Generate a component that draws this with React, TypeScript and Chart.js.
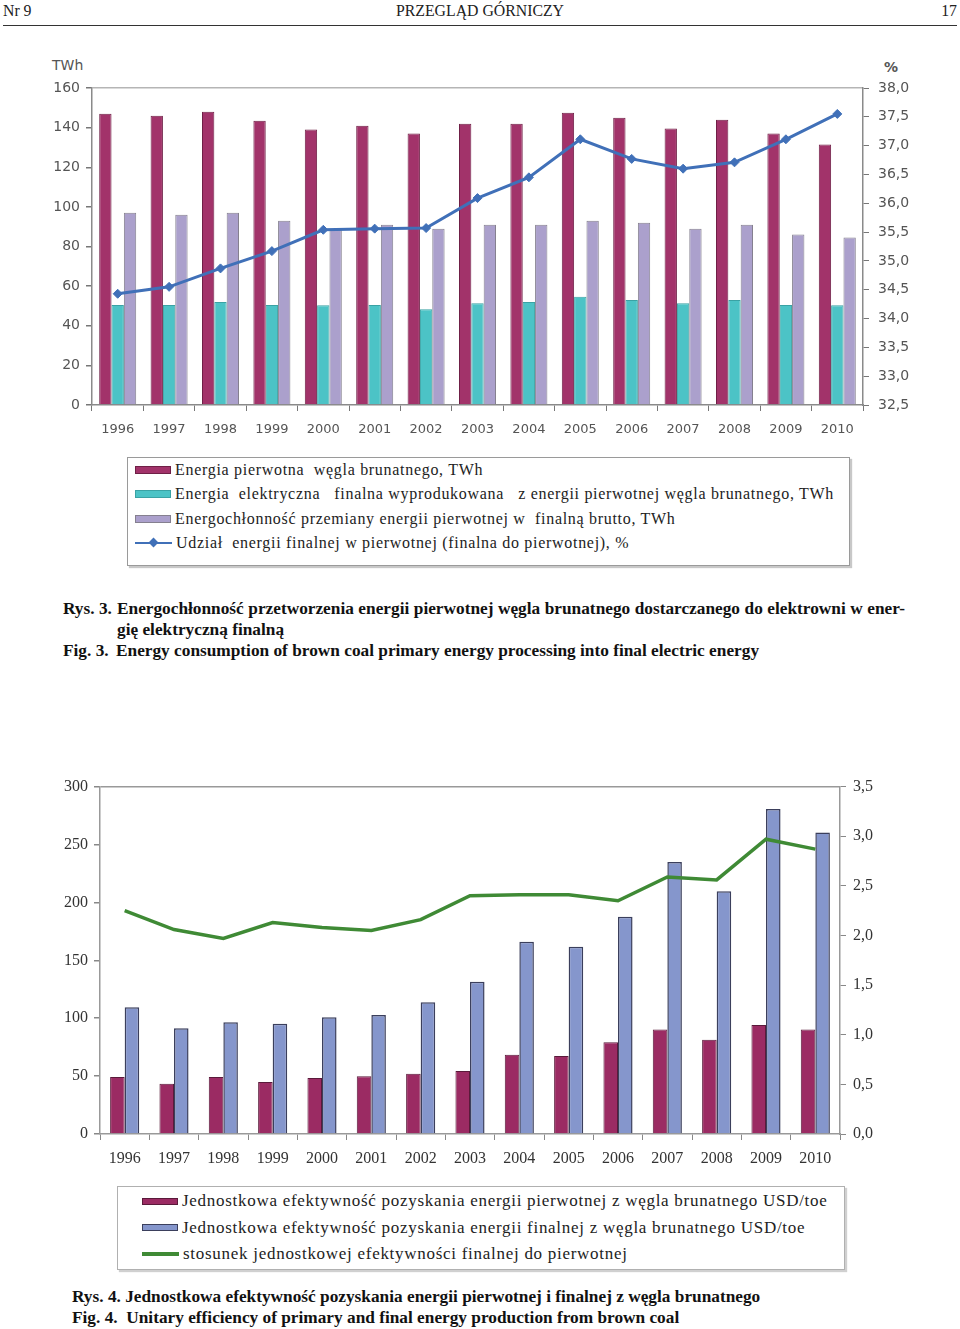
import React, { useEffect, useRef } from 'react';
import { Chart, registerables } from 'chart.js';

Chart.register(...registerables);

// ---------- DATA ----------
const years = ['1996', '1997', '1998', '1999', '2000', '2001', '2002', '2003', '2004', '2005', '2006', '2007', '2008', '2009', '2010'];

// Fig. 3
const primaryTWh = [147, 146, 148, 143.5, 139, 141, 137, 142, 142, 147.5, 145, 139.5, 144, 137, 131.5];
const finalTWh = [50.5, 50.5, 52, 50.5, 50.3, 50.5, 48.3, 51.3, 52, 54.7, 53, 51.3, 53, 50.5, 50.3];
const lossTWh = [97, 96, 97, 93, 88.5, 91, 89, 91, 91, 93, 92, 89, 91, 86, 84.5];
const sharePct = [34.43, 34.55, 34.87, 35.17, 35.54, 35.56, 35.57, 36.09, 36.45, 37.11, 36.77, 36.6, 36.71, 37.11, 37.55];
const fig3LeftRange = [0, 160, 20];
const fig3RightRange = [32.5, 38, 0.5];
const fig3Legend = [
  'Energia pierwotna  węgla brunatnego, TWh',
  'Energia  elektryczna   finalna wyprodukowana   z energii pierwotnej węgla brunatnego, TWh',
  'Energochłonność przemiany energii pierwotnej w  finalną brutto, TWh',
  'Udział  energii finalnej w pierwotnej (finalna do pierwotnej), %',
];

// Fig. 4
const primaryEff = [49.3, 43.5, 49.3, 45, 48.4, 49.8, 52.1, 54.4, 68.5, 67.3, 79.3, 90.2, 81.3, 94.2, 90.2];
const finalEff = [109.4, 91.3, 96.5, 95.1, 100.8, 102.8, 113.7, 131.4, 166, 161.8, 187.6, 234.8, 209.6, 280.7, 260.3];
const effRatio = [2.25, 2.06, 1.97, 2.13, 2.08, 2.05, 2.16, 2.4, 2.41, 2.41, 2.35, 2.59, 2.56, 2.97, 2.87];
const fig4LeftRange = [0, 300, 50];
const fig4RightRange = [0, 3.5, 0.5];
const fig4Legend = [
  'Jednostkowa efektywność pozyskania energii pierwotnej z węgla brunatnego USD/toe',
  'Jednostkowa efektywność pozyskania energii finalnej z węgla brunatnego USD/toe',
  'stosunek jednostkowej efektywności finalnej do pierwotnej',
];

// ---------- STYLES ----------
const C1 = { maroon: '#a2336a', maroonB: '#6f2046', teal: '#4cc3c6', tealB: '#3aa2a4', lav: '#aba0cc', lavB: '#85808f', line: '#4070b8' };
const C2 = { maroon: '#9b2b63', maroonB: '#5a1a3a', blue: '#8596cc', blueB: '#3b3f5c', green: '#3f8a35' };

const comma = (v: number) => Number(v).toFixed(1).replace('.', ',');

function Fig3Chart() {
  const ref = useRef<HTMLCanvasElement>(null);
  useEffect(() => {
    const sans = { family: 'DejaVu Sans', size: 14 };
    const chart = new Chart(ref.current!, {
      type: 'bar',
      data: {
        labels: years,
        datasets: [
          { type: 'line', label: fig3Legend[3], data: sharePct, yAxisID: 'y2', borderColor: C1.line, backgroundColor: C1.line, borderWidth: 3, pointStyle: 'rectRot', pointRadius: 4.5, pointBorderWidth: 1, tension: 0, order: 0 } as any,
          { type: 'bar', label: fig3Legend[0], data: primaryTWh, yAxisID: 'y', backgroundColor: C1.maroon, borderColor: C1.maroonB, borderWidth: 1, order: 1 },
          { type: 'bar', label: fig3Legend[1], data: finalTWh, yAxisID: 'y', backgroundColor: C1.teal, borderColor: C1.tealB, borderWidth: 1, order: 1 },
          { type: 'bar', label: fig3Legend[2], data: lossTWh, yAxisID: 'y', backgroundColor: C1.lav, borderColor: C1.lavB, borderWidth: 1, order: 1 },
        ],
      },
      options: {
        animation: false,
        responsive: false,
        devicePixelRatio: 1,
        layout: { padding: { top: 38, left: 0, right: 0, bottom: 0 } },
        datasets: { bar: { categoryPercentage: 0.72, barPercentage: 1.0 } },
        plugins: { legend: { display: false }, tooltip: { enabled: false } },
        scales: {
          x: {
            grid: { offset: true, drawOnChartArea: false, tickColor: '#777', tickLength: 6 },
            border: { color: '#8a8a8a', width: 1.5 },
            ticks: { font: { family: 'DejaVu Sans', size: 13 }, color: '#555', padding: 11, maxRotation: 0, autoSkip: false },
            afterFit: (s: any) => { s.height = 45; },
          },
          y: {
            position: 'left',
            min: fig3LeftRange[0], max: fig3LeftRange[1],
            ticks: { stepSize: fig3LeftRange[2], font: sans, color: '#555', padding: 6 },
            grid: { color: (ctx: any) => (ctx.tick && ctx.tick.value === fig3LeftRange[1] ? '#b5b5b5' : 'rgba(0,0,0,0)'), lineWidth: 1.5, tickColor: '#777', tickLength: 6 },
            border: { color: '#8a8a8a', width: 1.5 },
            afterFit: (s: any) => { s.width = 52; },
          },
          y2: {
            position: 'right',
            min: fig3RightRange[0], max: fig3RightRange[1],
            ticks: { stepSize: fig3RightRange[2], font: sans, color: '#555', padding: 9, callback: (v: any) => comma(v) },
            grid: { drawOnChartArea: false, tickColor: '#777', tickLength: 6 },
            border: { color: '#8a8a8a', width: 1.5 },
            afterFit: (s: any) => { s.width = 57; },
          },
        },
      } as any,
    });
    return () => chart.destroy();
  }, []);
  return <canvas ref={ref} width={880} height={400} style={{ position: 'absolute', left: 40, top: 50, width: 880, height: 400 }} />;
}

function Fig4Chart() {
  const ref = useRef<HTMLCanvasElement>(null);
  useEffect(() => {
    const serif = { family: 'Liberation Serif', size: 16 };
    const chart = new Chart(ref.current!, {
      type: 'bar',
      data: {
        labels: years,
        datasets: [
          { type: 'line', label: fig4Legend[2], data: effRatio, yAxisID: 'y2', borderColor: C2.green, backgroundColor: C2.green, borderWidth: 3.5, pointRadius: 0, tension: 0, order: 0 } as any,
          { type: 'bar', label: fig4Legend[0], data: primaryEff, yAxisID: 'y', backgroundColor: C2.maroon, borderColor: C2.maroonB, borderWidth: 1, order: 1 },
          { type: 'bar', label: fig4Legend[1], data: finalEff, yAxisID: 'y', backgroundColor: C2.blue, borderColor: C2.blueB, borderWidth: 1.5, order: 1 },
        ],
      },
      options: {
        animation: false,
        responsive: false,
        devicePixelRatio: 1,
        layout: { padding: { top: 15, left: 0, right: 0, bottom: 0 } },
        datasets: { bar: { categoryPercentage: 0.59, barPercentage: 1.0 } },
        plugins: { legend: { display: false }, tooltip: { enabled: false } },
        scales: {
          x: {
            grid: { offset: true, drawOnChartArea: false, tickColor: '#888', tickLength: 6 },
            border: { color: '#999', width: 1.5 },
            ticks: { font: serif, color: '#333', padding: 9, maxRotation: 0, autoSkip: false },
            afterFit: (s: any) => { s.height = 46; },
          },
          y: {
            position: 'left',
            min: fig4LeftRange[0], max: fig4LeftRange[1],
            ticks: { stepSize: fig4LeftRange[2], font: serif, color: '#333', padding: 6 },
            grid: { color: (ctx: any) => (ctx.tick && ctx.tick.value === fig4LeftRange[1] ? '#999' : 'rgba(0,0,0,0)'), lineWidth: 1.5, tickColor: '#888', tickLength: 6 },
            border: { color: '#999', width: 1.5 },
            afterFit: (s: any) => { s.width = 50; },
          },
          y2: {
            position: 'right',
            min: fig4RightRange[0], max: fig4RightRange[1],
            ticks: { stepSize: fig4RightRange[2], font: serif, color: '#333', padding: 7, callback: (v: any) => comma(v) },
            grid: { drawOnChartArea: false, tickColor: '#888', tickLength: 6 },
            border: { color: '#999', width: 1.5 },
            afterFit: (s: any) => { s.width = 50; },
          },
        },
      } as any,
    });
    return () => chart.destroy();
  }, []);
  return <canvas ref={ref} width={840} height={410} style={{ position: 'absolute', left: 50, top: 770, width: 840, height: 410 }} />;
}

const abs = (l: number, t: number, extra: React.CSSProperties = {}): React.CSSProperties => ({ position: 'absolute', left: l, top: t, whiteSpace: 'pre', ...extra });

function Swatch({ fill, border, h }: { fill: string; border: string; h: number }) {
  return <span style={{ display: 'inline-block', width: 36, height: h, background: fill, border: `1px solid ${border}`, boxSizing: 'border-box' }} />;
}

function LineSwatch({ color, marker, w }: { color: string; marker: boolean; w: number }) {
  return (
    <span style={{ position: 'relative', display: 'inline-block', width: 37, height: 10 }}>
      <span style={{ position: 'absolute', left: 0, top: 5 - w / 2, width: 37, height: w, background: color }} />
      {marker && <span style={{ position: 'absolute', left: 14.5, top: 1, width: 7, height: 7, background: color, transform: 'rotate(45deg)' }} />}
    </span>
  );
}

export default function App() {
  const serif = "'Liberation Serif', 'Times New Roman', serif";
  const leg1 = { fontFamily: serif, fontSize: 16, letterSpacing: '0.7px', color: '#222', lineHeight: '24px' };
  const leg2 = { fontFamily: serif, fontSize: 17, letterSpacing: '0.72px', color: '#222', lineHeight: '26px' };
  const cap = { fontFamily: serif, fontSize: 17.3, fontWeight: 700, color: '#111', lineHeight: '21px' } as React.CSSProperties;
  const head = { fontSize: 15.8, lineHeight: '18px', color: '#222' };
  return (
    <div style={{ position: 'absolute', left: 0, top: 0, width: 960, height: 1329, background: '#fff', overflow: 'hidden', fontFamily: serif }}>
      {/* header */}
      <div style={abs(3, 2, head)}>Nr 9</div>
      <div style={{ position: 'absolute', left: 0, top: 2, width: 960, textAlign: 'center', ...head }}>PRZEGLĄD GÓRNICZY</div>
      <div style={{ position: 'absolute', right: 3, top: 2, ...head }}>17</div>
      <div style={{ position: 'absolute', left: 3, top: 25, width: 954, height: 1, background: '#333' }} />

      {/* Fig 3 */}
      <div style={abs(52, 57, { fontFamily: 'DejaVu Sans', fontSize: 14, color: '#555', lineHeight: '17px' })}>TWh</div>
      <div style={abs(884, 59, { fontFamily: 'DejaVu Sans', fontSize: 14, fontWeight: 700, color: '#555', lineHeight: '17px' })}>%</div>
      <Fig3Chart />
      <div style={{ position: 'absolute', left: 127, top: 457, width: 723, height: 109, border: '1px solid #9a9a9a', boxShadow: '2px 2px 1px #c8c8c8', boxSizing: 'border-box' }}>
        {fig3Legend.map((t, i) => (
          <div key={i} style={{ position: 'absolute', left: 7, top: i * 24.3, height: 24, display: 'flex', alignItems: 'center', ...leg1 }}>
            {i === 0 && <Swatch fill={C1.maroon} border={C1.maroonB} h={8} />}
            {i === 1 && <Swatch fill={C1.teal} border={C1.tealB} h={8} />}
            {i === 2 && <Swatch fill={C1.lav} border={C1.lavB} h={8} />}
            {i === 3 && <LineSwatch color={C1.line} marker={true} w={2.5} />}
            <span style={{ marginLeft: 4, whiteSpace: 'pre' }}>{t}</span>
          </div>
        ))}
      </div>

      <div style={abs(63, 598, cap)}>Rys. 3.</div>
      <div style={{ position: 'absolute', left: 117, top: 598, width: 788, textAlign: 'justify', textAlignLast: 'justify', whiteSpace: 'nowrap', ...cap } as React.CSSProperties}>
        Energochłonność przetworzenia energii pierwotnej węgla brunatnego dostarczanego do elektrowni w ener-
      </div>
      <div style={abs(117, 619, cap)}>gię elektryczną finalną</div>
      <div style={abs(63, 640, cap)}>Fig. 3.</div>
      <div style={abs(116, 640, cap)}>Energy consumption of brown coal primary energy processing into final electric energy</div>

      {/* Fig 4 */}
      <Fig4Chart />
      <div style={{ position: 'absolute', left: 117, top: 1186, width: 728, height: 84, border: '1px solid #b0b0b0', boxShadow: '2px 2px 1px #d0d0d0', boxSizing: 'border-box' }}>
        {fig4Legend.map((t, i) => (
          <div key={i} style={{ position: 'absolute', left: 24, top: 1 + i * 26.5, height: 26, display: 'flex', alignItems: 'center', ...leg2 }}>
            {i === 0 && <Swatch fill={C2.maroon} border={C2.maroonB} h={7} />}
            {i === 1 && <Swatch fill={C2.blue} border={C2.blueB} h={7} />}
            {i === 2 && <LineSwatch color={C2.green} marker={false} w={3.5} />}
            <span style={{ marginLeft: 4, whiteSpace: 'pre' }}>{t}</span>
          </div>
        ))}
      </div>

      <div style={abs(72, 1286, cap)}>Rys. 4. Jednostkowa efektywność pozyskania energii pierwotnej i finalnej z węgla brunatnego</div>
      <div style={abs(72, 1307, cap)}>Fig. 4.  Unitary efficiency of primary and final energy production from brown coal</div>
    </div>
  );
}
